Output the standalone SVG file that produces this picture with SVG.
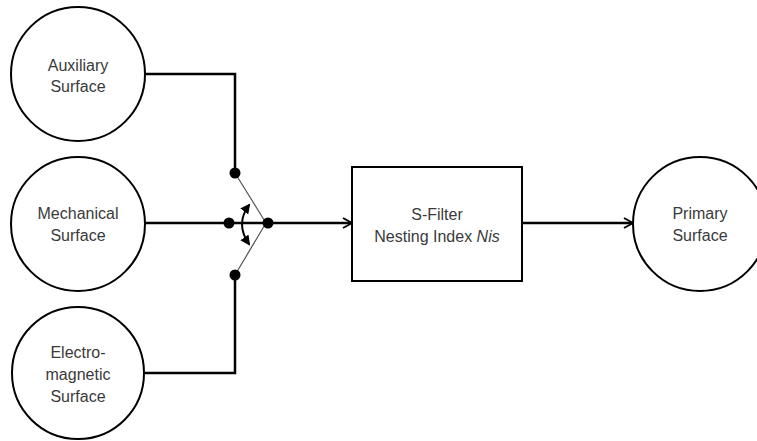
<svg xmlns="http://www.w3.org/2000/svg" width="757" height="441" viewBox="0 0 757 441">
<defs>
<style>
.node{fill:#fff;stroke:#000;stroke-width:2}
.lbl{font-family:"Liberation Sans",Arial,sans-serif;font-size:16px;fill:#3a3a3a;text-anchor:middle}
.wire{fill:none;stroke:#000;stroke-width:2.5}
.thin{fill:none;stroke:#555;stroke-width:1.2}
.dot{fill:#000}
</style>
<marker id="arr" viewBox="0 0 12 12" refX="11" refY="6" markerWidth="12" markerHeight="12" markerUnits="userSpaceOnUse" orient="auto">
<path d="M2,1 L11,6 L2,11" fill="none" stroke="#000" stroke-width="2"/>
</marker>
<marker id="arc" viewBox="0 0 10 10" refX="8" refY="5" markerWidth="10" markerHeight="10" markerUnits="userSpaceOnUse" orient="auto-start-reverse">
<path d="M0,0 L10,5 L0,10 Z" fill="#000"/>
</marker>
</defs>
<g id="connectors">
<polyline class="wire" points="145,74 235,74 235,173"/>
<polyline class="wire" points="145,373 235,373 235,275"/>
<line class="wire" x1="145" y1="223" x2="268" y2="223"/>
<line class="wire" x1="268" y1="223" x2="352" y2="223" marker-end="url(#arr)"/>
<line class="wire" x1="522" y1="223" x2="633" y2="223" marker-end="url(#arr)"/>
<line class="thin" x1="235" y1="173" x2="266" y2="223"/>
<line class="thin" x1="235" y1="275" x2="266" y2="223"/>
<path d="M249,205 Q235,224 249,244" fill="none" stroke="#000" stroke-width="2" marker-start="url(#arc)" marker-end="url(#arc)"/>
<circle class="dot" cx="235" cy="173" r="5.5"/>
<circle class="dot" cx="229" cy="223" r="5.5"/>
<circle class="dot" cx="268" cy="223" r="5.5"/>
<circle class="dot" cx="235" cy="275" r="5.5"/>
</g>
<g id="auxiliary">
<circle class="node" cx="78" cy="74" r="67"/>
<text class="lbl" x="78" y="71">Auxiliary</text>
<text class="lbl" x="78" y="92">Surface</text>
</g>
<g id="mechanical">
<circle class="node" cx="78" cy="224" r="67"/>
<text class="lbl" x="78" y="219">Mechanical</text>
<text class="lbl" x="78" y="241">Surface</text>
</g>
<g id="electromagnetic">
<circle class="node" cx="78" cy="373" r="66"/>
<text class="lbl" x="78" y="358">Electro-</text>
<text class="lbl" x="78" y="380">magnetic</text>
<text class="lbl" x="78" y="402">Surface</text>
</g>
<g id="sfilter">
<rect class="node" x="352" y="167" width="170" height="114" stroke-width="1.5"/>
<text class="lbl" x="437" y="220">S-Filter</text>
<text class="lbl" x="437" y="242">Nesting Index <tspan font-style="italic">Nis</tspan></text>
</g>
<g id="primary">
<circle class="node" cx="700" cy="224" r="67"/>
<text class="lbl" x="700" y="219">Primary</text>
<text class="lbl" x="700" y="241">Surface</text>
</g>
</svg>
